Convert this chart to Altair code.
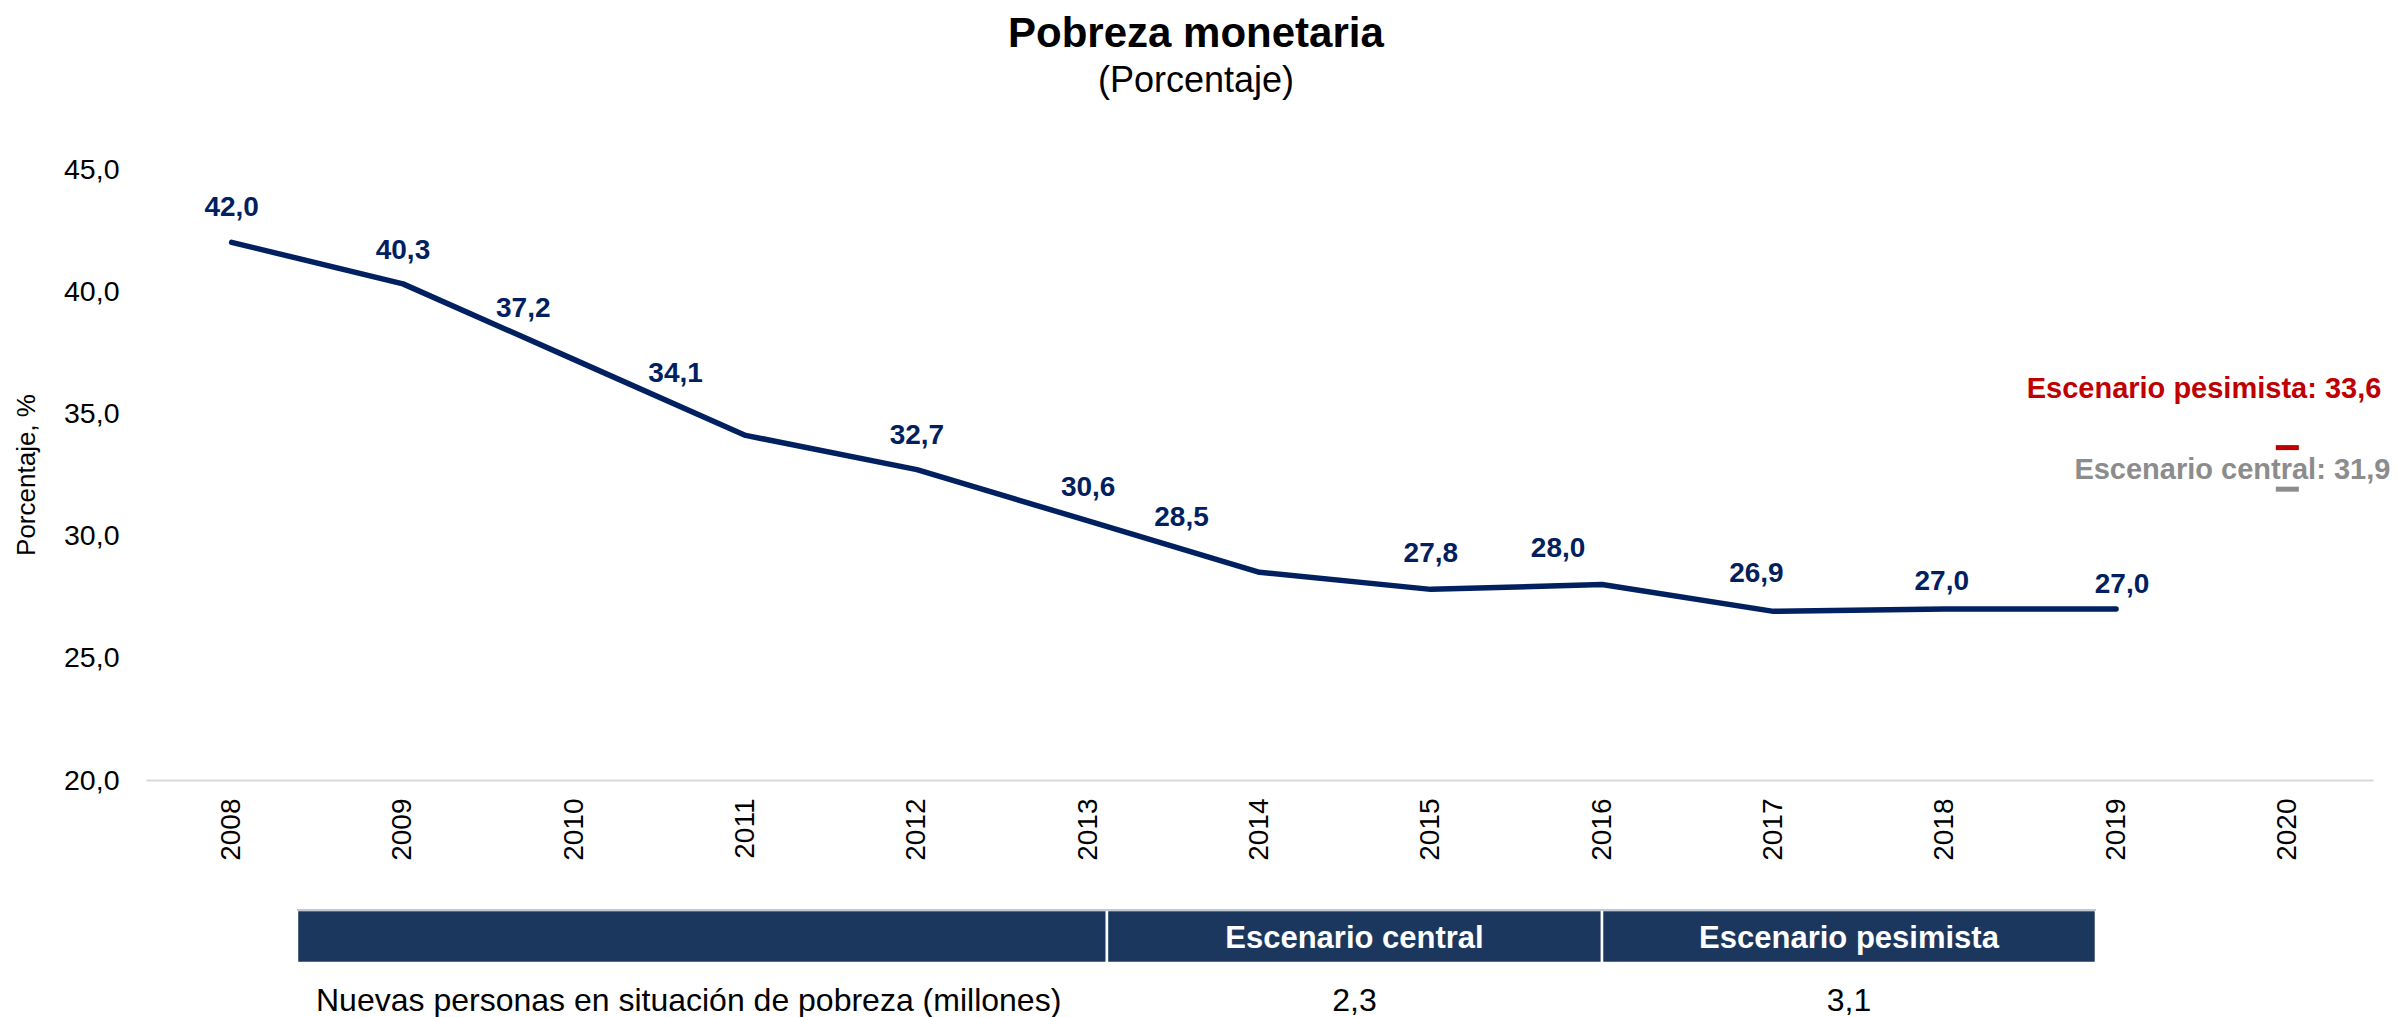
import altair as alt
import pandas as pd

# ---------------- data ----------------
years = [2008, 2009, 2010, 2011, 2012, 2013, 2014, 2015, 2016, 2017, 2018, 2019]
pobreza = [42.0, 40.3, 37.2, 34.1, 32.7, 30.6, 28.5, 27.8, 28.0, 26.9, 27.0, 27.0]
axis_years = [2008, 2009, 2010, 2011, 2012, 2013, 2014, 2015, 2016, 2017, 2018, 2019, 2020]

scenario_year = 2020
scenario_names = ["Escenario pesimista", "Escenario central"]
scenario_values = [33.6, 31.9]

table_headers = ["", "Escenario central", "Escenario pesimista"]
table_row_label = "Nuevas personas en situación de pobreza (millones)"
table_row_values = [None, 2.3, 3.1]

# ---------------- styling ----------------
NAVY = "#002060"
RED = "#C00000"
GRAY = "#8C8C8C"
HEADER = "#1B375E"
FONT = "Liberation Sans"
scenario_colors = [RED, GRAY]
# per-label nudges (px) for the value labels, as placed in the original
label_nudges = [(0, -34), (0, -33), (-51, -51), (-70, -61), (0, -34), (0, -33),
                (-78, -54), (0, -35), (-44, -35), (-17, -37), (-3, -27), (6, -24)]
scenario_nudges = [(94, -50), (103, -10)]
# table column edges as fractions of the panel width
col_edges = [0.0678, 0.4315, 0.6538, 0.8756]

W, H = 2227, 611
ROW_H = 53
TABLE_H = 98

fmt = "replace(format(datum.value, '.1f'), '.', ',')"

df = pd.DataFrame({"year": years, "value": pobreza})
sc = pd.DataFrame({"year": [scenario_year] * 2, "value": scenario_values, "name": scenario_names})

x = alt.X(
    "year:O",
    scale=alt.Scale(type="point", domain=axis_years, padding=0.5),
    axis=alt.Axis(title=None, labelAngle=-90, labelFontSize=28, labelColor="black",
                  labelPadding=18, ticks=False, tickSize=0, domainColor="#D9D9D9",
                  domainWidth=2, grid=False, labelFont=FONT),
)
y = alt.Y(
    "value:Q",
    scale=alt.Scale(domain=[20, 45], nice=False, zero=False),
    axis=alt.Axis(title="Porcentaje, %", values=[20, 25, 30, 35, 40, 45], labelExpr=fmt,
                  labelFontSize=28.5, labelColor="black", labelPadding=27, ticks=False,
                  tickSize=0, domain=False, grid=False, titleFontSize=26,
                  titleFontWeight="normal", titleColor="black", titlePadding=24,
                  labelFont=FONT, titleFont=FONT),
)

line = alt.Chart(df).mark_line(color=NAVY, strokeWidth=5.5, strokeCap="round",
                               strokeJoin="round").encode(x=x, y=y)

layers = [line]
for yr, (ndx, ndy) in zip(years, label_nudges):
    layers.append(
        alt.Chart(df)
        .transform_filter(alt.datum.year == yr)
        .transform_calculate(label=fmt)
        .mark_text(dx=ndx, dy=ndy, fontSize=28, fontWeight="bold", color=NAVY,
                   baseline="middle", align="center", font=FONT)
        .encode(x=x, y=y, text="label:N")
    )

ticks = alt.Chart(sc).mark_tick(size=23, thickness=5, opacity=1).encode(
    x=x, y=y,
    color=alt.Color("name:N", scale=alt.Scale(domain=scenario_names, range=scenario_colors),
                    legend=None),
)
layers.append(ticks)
for nm, col, (ndx, ndy) in zip(scenario_names, scenario_colors, scenario_nudges):
    layers.append(
        alt.Chart(sc)
        .transform_filter(alt.datum.name == nm)
        .transform_calculate(label="datum.name + ': ' + " + fmt)
        .mark_text(dx=ndx, dy=ndy, fontSize=29, fontWeight="bold", color=col,
                   align="right", baseline="alphabetic", font=FONT)
        .encode(x=x, y=y, text="label:N")
    )

main = alt.layer(*layers).properties(width=W, height=H)

# ---------------- table ----------------
tb = pd.DataFrame({
    "x0": col_edges[:-1],
    "x1": col_edges[1:],
    "header": table_headers,
    "value": table_row_values,
})
tx = alt.Scale(domain=[0, 1])
ty = alt.Scale(domain=[0, TABLE_H / ROW_H], reverse=True)

head_rect = alt.Chart(tb).mark_rect(color=HEADER, stroke="white", strokeWidth=2.5).encode(
    x=alt.X("x0:Q", scale=tx, axis=None), x2="x1:Q",
    y=alt.Y(datum=0, scale=ty, axis=None), y2=alt.datum(1),
)
head_top = alt.Chart(tb).mark_rule(color="#AAB7C9", strokeWidth=1.5).encode(
    x=alt.X("x0:Q", scale=tx, axis=None), x2="x1:Q",
    y=alt.Y(datum=0, scale=ty, axis=None),
)
head_text = alt.Chart(tb).transform_calculate(mid="(datum.x0 + datum.x1) / 2").mark_text(
    color="white", fontSize=31, fontWeight="bold", baseline="middle", align="center",
    font=FONT, dy=2,
).encode(
    x=alt.X("mid:Q", scale=tx, axis=None),
    y=alt.Y(datum=0.5, scale=ty, axis=None),
    text="header:N",
)
row_label = alt.Chart(tb).transform_filter("datum.header == ''").mark_text(
    color="black", fontSize=32, baseline="middle", align="left", font=FONT, dx=19, dy=11,
).encode(
    x=alt.X("x0:Q", scale=tx, axis=None),
    y=alt.Y(datum=1.5, scale=ty, axis=None),
    text=alt.value(table_row_label),
)
row_vals = alt.Chart(tb).transform_filter("isValid(datum.value)").transform_calculate(
    mid="(datum.x0 + datum.x1) / 2", label=fmt
).mark_text(
    color="black", fontSize=32, baseline="middle", align="center", font=FONT, dy=11,
).encode(
    x=alt.X("mid:Q", scale=tx, axis=None),
    y=alt.Y(datum=1.5, scale=ty, axis=None),
    text="label:N",
)
table = alt.layer(head_rect, head_top, head_text, row_label, row_vals).properties(
    width=W, height=TABLE_H)

chart = (
    alt.vconcat(main, table, spacing=47)
    .properties(
        title=alt.TitleParams(
            text="Pobreza monetaria", subtitle="(Porcentaje)", fontSize=42,
            fontWeight="bold", color="black", subtitleFontSize=36, subtitleColor="black",
            font=FONT, subtitleFont=FONT, anchor="middle", subtitlePadding=8, offset=55,
            dx=-6,
        ),
        padding={"left": 5, "top": 5, "right": 0, "bottom": 0},
    )
    .configure(font=FONT, background="white")
    .configure_view(stroke=None)
)

chart.save("out.html", embed_options={"renderer": "svg", "actions": False})
